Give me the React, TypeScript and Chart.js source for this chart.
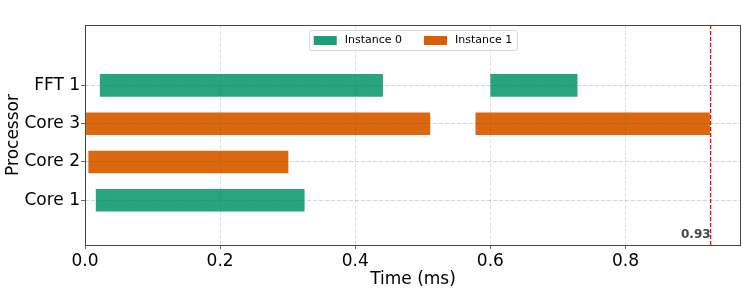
import React, { useEffect, useRef } from "react";
import { Chart, registerables } from "chart.js";

Chart.register(...registerables);

const processors = ["Core 1", "Core 2", "Core 3", "FFT 1"];
const xTicks = [0.0, 0.2, 0.4, 0.6, 0.8];

const instance0Proc = ["FFT 1", "FFT 1", "Core 1"];
const instance0Start = [0.021, 0.599, 0.015];
const instance0End = [0.442, 0.730, 0.326];

const instance1Proc = ["Core 3", "Core 3", "Core 2"];
const instance1Start = [0.0, 0.577, 0.004];
const instance1End = [0.512, 0.926, 0.302];

const seriesNames = ["Instance 0", "Instance 1"];
const seriesColors = ["#1b9e77", "#d95f02"];
const seriesFills = ["rgba(27,158,119,0.94)", "rgba(217,95,2,0.94)"];

const deadline = 0.926;
const deadlineLabel = "0.93";
const xMax = 0.971;
const yMin = -1.17;
const yMax = 4.58;

const FONT = "'DejaVu Sans', sans-serif";

const overlayPlugin = {
  id: "overlay",
  afterDraw(chart: any) {
    const ctx = chart.ctx;
    const ca = chart.chartArea;
    const xs = chart.scales.x;
    const dx = xs.getPixelForValue(deadline);
    ctx.save();
    ctx.strokeStyle = "#ff0000";
    ctx.lineWidth = 1.3;
    ctx.setLineDash([4, 2]);
    ctx.beginPath();
    ctx.moveTo(dx, ca.top);
    ctx.lineTo(dx, ca.bottom);
    ctx.stroke();
    ctx.setLineDash([]);
    ctx.fillStyle = "#444444";
    ctx.font = `bold 12px ${FONT}`;
    ctx.textAlign = "right";
    ctx.textBaseline = "alphabetic";
    ctx.fillText(deadlineLabel, dx, ca.bottom - 7.5);
    ctx.strokeStyle = "#444444";
    ctx.lineWidth = 1;
    ctx.strokeRect(Math.round(ca.left) + 0.5, Math.round(ca.top) + 0.5, Math.round(ca.right - ca.left) - 1, Math.round(ca.bottom - ca.top));
    ctx.font = `11px ${FONT}`;
    const pad = 4;
    const patchW = 23;
    const gap = 8;
    const colGap = 22;
    const widths = seriesNames.map((n) => ctx.measureText(n).width);
    let total = pad * 2 + 1;
    widths.forEach((w, i) => {
      total += patchW + gap + w + (i < widths.length - 1 ? colGap : 0);
    });
    const boxH = 20;
    const bx = (ca.left + ca.right) / 2 - total / 2;
    const by = ca.top + 5;
    ctx.fillStyle = "rgba(255,255,255,0.8)";
    ctx.strokeStyle = "#d6d6d6";
    ctx.lineWidth = 1;
    ctx.beginPath();
    (ctx as any).roundRect(bx + 0.5, by + 0.5, total, boxH, 2);
    ctx.fill();
    ctx.stroke();
    let cx = bx + pad + 0.5;
    const cy = by + boxH / 2 + 0.5;
    ctx.textAlign = "left";
    ctx.textBaseline = "middle";
    seriesNames.forEach((n, i) => {
      ctx.fillStyle = seriesColors[i];
      ctx.fillRect(cx, cy - 4.5, patchW, 9);
      cx += patchW + gap;
      ctx.fillStyle = "#000000";
      ctx.fillText(n, cx, cy);
      cx += widths[i] + colGap;
    });
    ctx.restore();
  },
};

export default function App() {
  const ref = useRef<HTMLCanvasElement>(null);
  useEffect(() => {
    document.body.style.margin = "0";
    const toData = (procs: string[], s: number[], e: number[]) =>
      procs.map((p, i) => ({ y: processors.indexOf(p), x: [s[i], e[i]] }));
    const chart = new Chart(ref.current!, {
      type: "bar",
      data: {
        datasets: [
          {
            label: seriesNames[0],
            data: toData(instance0Proc, instance0Start, instance0End) as any,
            backgroundColor: seriesFills[0],
            borderColor: "rgba(255,255,255,0.35)",
            borderWidth: 1,
            borderSkipped: false,
          },
          {
            label: seriesNames[1],
            data: toData(instance1Proc, instance1Start, instance1End) as any,
            backgroundColor: seriesFills[1],
            borderColor: "rgba(255,255,255,0.35)",
            borderWidth: 1,
            borderSkipped: false,
          },
        ],
      },
      options: {
        indexAxis: "y",
        responsive: false,
        animation: false,
        maintainAspectRatio: false,
        layout: { padding: { left: 0, right: 6, top: 25, bottom: 0 } },
        datasets: { bar: { grouped: false, barThickness: 24 } } as any,
        plugins: { legend: { display: false }, tooltip: { enabled: false } },
        scales: {
          x: {
            type: "linear",
            min: 0,
            max: xMax,
            afterBuildTicks: (s: any) => {
              s.ticks = xTicks.map((v) => ({ value: v }));
            },
            afterFit: (s: any) => {
              s.height = 54;
            },
            border: { display: false, dash: [4, 2] } as any,
            grid: {
              z: 1,
              color: "rgba(0,120,0,0.22)",
              lineWidth: 0.8,
              drawTicks: true,
              tickLength: 4,
              tickColor: "#444444",
              tickBorderDash: [],
            } as any,
            ticks: {
              color: "#000000",
              font: { family: FONT, size: 17 },
              padding: 2,
              maxRotation: 0,
              callback: (v: any) => Number(v).toFixed(1),
            },
            title: {
              display: true,
              text: "Time (ms)",
              color: "#000000",
              font: { family: FONT, size: 17 },
              padding: { top: 0, bottom: 9 },
            },
          },
          y: {
            type: "linear",
            min: yMin,
            max: yMax,
            offset: false,
            afterBuildTicks: (s: any) => {
              s.ticks = processors.map((_, i) => ({ value: i }));
            },
            afterFit: (s: any) => {
              s.width = 85;
            },
            border: { display: false, dash: [4, 2] } as any,
            grid: {
              z: 1,
              offset: false,
              color: "rgba(40,100,40,0.3)",
              lineWidth: 0.8,
              drawTicks: true,
              tickLength: 4,
              tickColor: "#444444",
              tickBorderDash: [],
            } as any,
            ticks: {
              color: "#000000",
              font: { family: FONT, size: 17 },
              padding: 1,
              callback: (v: any) => processors[Number(v)] ?? "",
            },
            title: {
              display: true,
              text: "Processor",
              color: "#000000",
              font: { family: FONT, size: 17 },
              padding: { top: 3, bottom: 0 },
            },
          },
        },
      },
      plugins: [overlayPlugin],
    });
    return () => chart.destroy();
  }, []);
  return <canvas ref={ref} width={747} height={299} style={{ display: "block" }} />;
}
